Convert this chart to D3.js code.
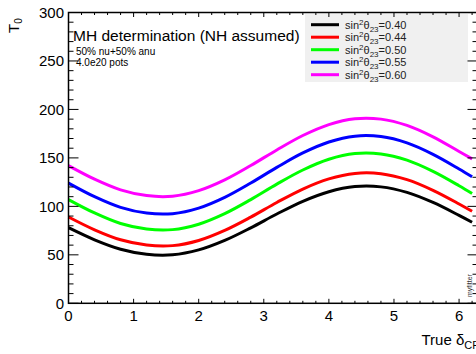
<!DOCTYPE html>
<html>
<head>
<meta charset="utf-8">
<script src="https://cdn.jsdelivr.net/npm/d3@7"></script>
<style>
  body { margin: 0; background: #fff; }
  svg { display: block; font-family: "Liberation Sans", Arial, sans-serif; }
</style>
</head>
<body>
<svg id="chart" width="476" height="354"></svg>
<script>
// true delta_CP sample points
const deltaCP = [0, 0.4, 0.8, 1.2, 1.6, 2.0, 2.4, 2.8, 3.2, 3.6, 4.0, 4.4, 4.8, 5.2, 5.6, 6.0, 6.2];
// T0 values, one array per sin^2 theta23
const t040 = [78, 65.5, 55.8, 50.6, 50.1, 55.1, 64.9, 77.9, 92.1, 105.2, 115.1, 120.4, 120.1, 114.4, 104.0, 90.7, 83.6];
const t044 = [89, 75.8, 65.5, 60.1, 59.5, 64.8, 75.2, 88.9, 104.0, 117.9, 128.4, 134.0, 133.7, 127.6, 116.6, 102.5, 94.9];
const t050 = [107, 93.2, 82.3, 76.6, 76.0, 81.6, 92.5, 107.0, 122.9, 137.5, 148.6, 154.5, 154.1, 147.7, 136.1, 121.3, 113.3];
const t055 = [124, 110, 99, 93.1, 92.5, 98.2, 109.3, 124.1, 140.2, 155.1, 166.4, 172.4, 172.0, 165.5, 153.7, 138.6, 130.5];
const t060 = [142, 128, 117, 111.1, 110.5, 116.2, 127.3, 142.1, 158.2, 173.1, 184.4, 190.4, 190.0, 183.5, 171.7, 156.6, 149.0];
const theta23 = ["0.40", "0.44", "0.50", "0.55", "0.60"];
const colors = ["#000000", "#ff0000", "#00ff00", "#0000ff", "#ff00ff"];
const xTicks = [0, 1, 2, 3, 4, 5, 6];
const yTicks = [0, 50, 100, 150, 200, 250, 300];

const series = [t040, t044, t050, t055, t060].map((vals, i) => ({
  label: theta23[i], color: colors[i],
  points: vals.map((v, j) => [deltaCP[j], v])
}));

const svg = d3.select('#chart');
const frame = {left: 68.5, right: 477.5, top: 12.5, bottom: 303.3};

const x = d3.scaleLinear().domain([0, 2 * Math.PI]).range([frame.left, frame.right]);
const y = d3.scaleLinear().domain([0, 300]).range([frame.bottom, frame.top]);

/* CURVES */
const line = d3.line().x(d => x(d[0])).y(d => y(d[1])).curve(d3.curveCatmullRom);
svg.append('g').selectAll('path').data(series).enter().append('path')
  .attr('d', d => line(d.points))
  .attr('fill', 'none').attr('stroke', d => d.color).attr('stroke-width', 3);

/* LEGEND */
const legend = svg.append('g').attr('class', 'legend');
legend.append('rect').attr('x', 305).attr('y', 14).attr('width', 163).attr('height', 68)
  .attr('fill', '#f0f0f0');
const entry = legend.selectAll('g.entry').data(series).enter().append('g')
  .attr('class', 'entry')
  .attr('transform', (d, i) => `translate(0,${24.7 + i * 12.5})`);
entry.append('line').attr('x1', 311).attr('x2', 339).attr('y1', 0).attr('y2', 0)
  .attr('stroke', d => d.color).attr('stroke-width', 3);
const lt = entry.append('text').attr('x', 345).attr('y', 4).style('font-size', '11px').attr('fill', '#222');
lt.append('tspan').text('sin');
lt.append('tspan').attr('dy', -4).style('font-size', '8px').text('2');
lt.append('tspan').attr('dy', 4).text('θ');
lt.append('tspan').attr('dy', 3).style('font-size', '8px').text('23');
lt.append('tspan').attr('dy', -3).text(d => '=' + d.label);

/* AXES (ROOT style ticks, drawn inside the frame) */
const axes = svg.append('g').attr('stroke', '#000').attr('stroke-width', 1);
const xMinor = d3.range(0, 6.3, 0.2).map(v => +v.toFixed(1));
const yMinor = d3.range(0, 301, 10);
const isMajorX = v => Math.abs(v - Math.round(v)) < 1e-6;
const isMajorY = v => v % 50 === 0;

xMinor.forEach(v => {
  const len = isMajorX(v) ? 4.5 : 2.5;
  axes.append('line').attr('x1', x(v)).attr('x2', x(v)).attr('y1', frame.bottom).attr('y2', frame.bottom - len);
  axes.append('line').attr('x1', x(v)).attr('x2', x(v)).attr('y1', frame.top).attr('y2', frame.top + len);
});
yMinor.forEach(v => {
  const len = isMajorY(v) ? 10 : 5;
  axes.append('line').attr('y1', y(v)).attr('y2', y(v)).attr('x1', frame.left).attr('x2', frame.left + len);
  axes.append('line').attr('y1', y(v)).attr('y2', y(v)).attr('x1', frame.right).attr('x2', frame.right - len);
});
axes.append('rect').attr('x', frame.left).attr('y', frame.top)
  .attr('width', frame.right - frame.left).attr('height', frame.bottom - frame.top)
  .attr('fill', 'none').attr('stroke-width', 1.5);

svg.append('g').selectAll('text').data(xTicks).enter().append('text')
  .attr('x', d => x(d)).attr('y', 321).attr('text-anchor', 'middle')
  .style('font-size', '15px').text(d => d);
svg.append('g').selectAll('text').data(yTicks).enter().append('text')
  .attr('x', 64).attr('y', d => y(d) + 5.5).attr('text-anchor', 'end')
  .style('font-size', '15px').text(d => d);

/* TITLES */
const xt = svg.append('text').attr('x', 421.5).attr('y', 345).style('font-size', '15px');
xt.append('tspan').text('True δ');
xt.append('tspan').attr('dy', 4).style('font-size', '11px').text('CP');

const yt = svg.append('text').attr('transform', 'translate(19,33) rotate(-90)').style('font-size', '15px');
yt.append('tspan').text('T');
yt.append('tspan').attr('dy', 3).style('font-size', '10px').text('0');

svg.append('text').attr('x', 73).attr('y', 41).style('font-size', '15.5px').text('MH determination (NH assumed)');
svg.append('text').attr('x', 76).attr('y', 55).style('font-size', '10px').text('50% nu+50% anu');
svg.append('text').attr('x', 76).attr('y', 66).style('font-size', '10px').text('4.0e20 pots');

svg.append('text').attr('transform', 'translate(471.5,297) rotate(-90)')
  .style('font-size', '7px').attr('fill', '#333').text('myfitter');
</script>
</body>
</html>
